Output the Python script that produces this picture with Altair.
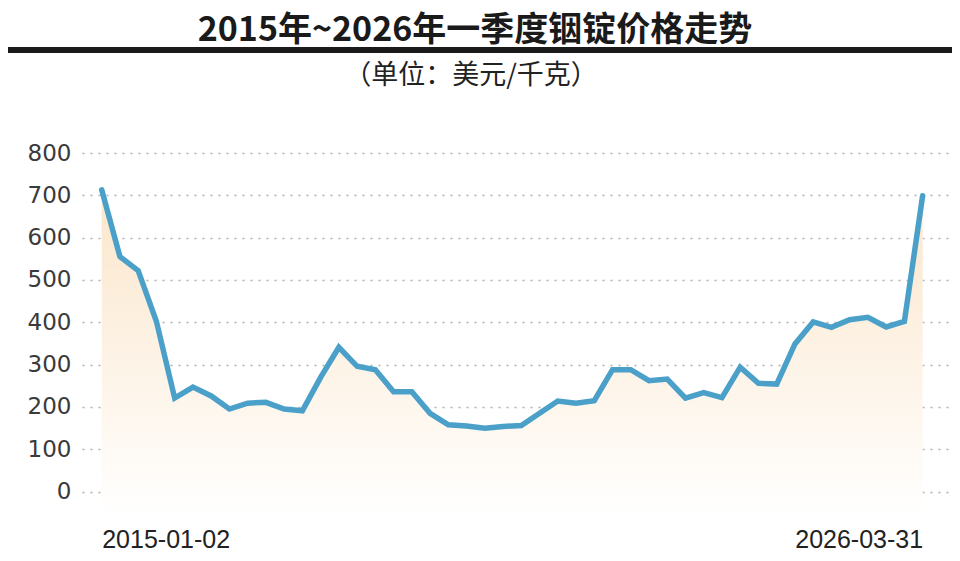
import altair as alt
import pandas as pd

# ---- data ----
prices = [713, 555, 522, 402, 221, 247, 226, 195, 209, 211, 195, 191,
          270, 341, 296, 288, 236, 236, 185, 158, 155, 150, 154, 156,
          185, 214, 209, 215, 288, 288, 262, 266, 221, 234, 222, 294,
          256, 254, 349, 401, 388, 406, 412, 389, 402, 699]
end_labels = ["2015-01-02", "2026-03-31"]
y_ticks = [0, 100, 200, 300, 400, 500, 600, 700, 800]
title_text = "2015年~2026年一季度铟锭价格走势"
subtitle_text = "（单位：美元/千克）"

n = len(prices)
df = pd.DataFrame({"i": list(range(n)), "price": prices})

W, H = 868, 364
LINE = "#4aa0c8"

x_scale = alt.Scale(domain=[-1.08, 46.5], nice=False, zero=False)
y_scale = alt.Scale(domain=[-60, 800], nice=False, zero=False)

label_expr = f"datum.value == 0 ? '{end_labels[0]}' : '{end_labels[1]}'"

x_enc = alt.X("i:Q", scale=x_scale,
              axis=alt.Axis(values=[0, n - 1], labelExpr=label_expr,
                            ticks=False, domain=False, grid=False, title=None,
                            labelFont="Liberation Sans", labelFontSize=25,
                            labelColor="#222222", labelBaseline="alphabetic",
                            labelPadding=30,
                            labelAlign={"condition": {"test": "datum.value == 0", "value": "left"},
                                        "value": "right"}))
y_enc = alt.Y("price:Q", scale=y_scale,
              axis=alt.Axis(values=y_ticks, ticks=False, domain=False, title=None,
                            labelFont="DejaVu Sans", labelFontSize=23,
                            labelColor="#3a3a3a", labelPadding=11,
                            gridColor="#b0b0b0", gridDash=[2, 6], gridWidth=1.6))

base = alt.Chart(df)

area = base.mark_area(
    color=alt.Gradient(gradient="linear",
                       stops=[alt.GradientStop(color="#fbe6cb", offset=0),
                              alt.GradientStop(color="#ffffff", offset=1)],
                       x1=0, x2=0, y1=0, y2=1)
).encode(x=x_enc, y=y_enc, y2=alt.datum(-60))

line = base.mark_line(color=LINE, strokeWidth=5.5, strokeJoin="miter",
                      strokeCap="round").encode(x="i:Q", y="price:Q")

title = alt.Chart(pd.DataFrame({"t": [title_text]})).mark_text(
    font="Noto Sans CJK SC", fontWeight="bold", fontSize=34, color="#1a1a1a",
    align="center", baseline="alphabetic"
).encode(text="t:N", x=alt.value(393), y=alt.value(-112))

subtitle = alt.Chart(pd.DataFrame({"t": [subtitle_text]})).mark_text(
    font="Noto Sans CJK SC", fontSize=27, color="#222222",
    align="center", baseline="alphabetic"
).encode(text="t:N", x=alt.value(389), y=alt.value(-69))

rule = alt.Chart(pd.DataFrame({"r": [0]})).mark_rule(
    color="#1a1a1a", strokeWidth=6
).encode(x=alt.value(-74), x2=alt.value(870), y=alt.value(-103))

chart = alt.layer(area, line, title, subtitle, rule).properties(
    width=W, height=H,
    autosize=alt.AutoSizeParams(type="none"),
    padding={"left": 74, "top": 145, "right": 2, "bottom": 36},
    background="white",
).configure_view(stroke=None)

chart.save("out.html", embed_options={"renderer": "svg", "actions": False})
